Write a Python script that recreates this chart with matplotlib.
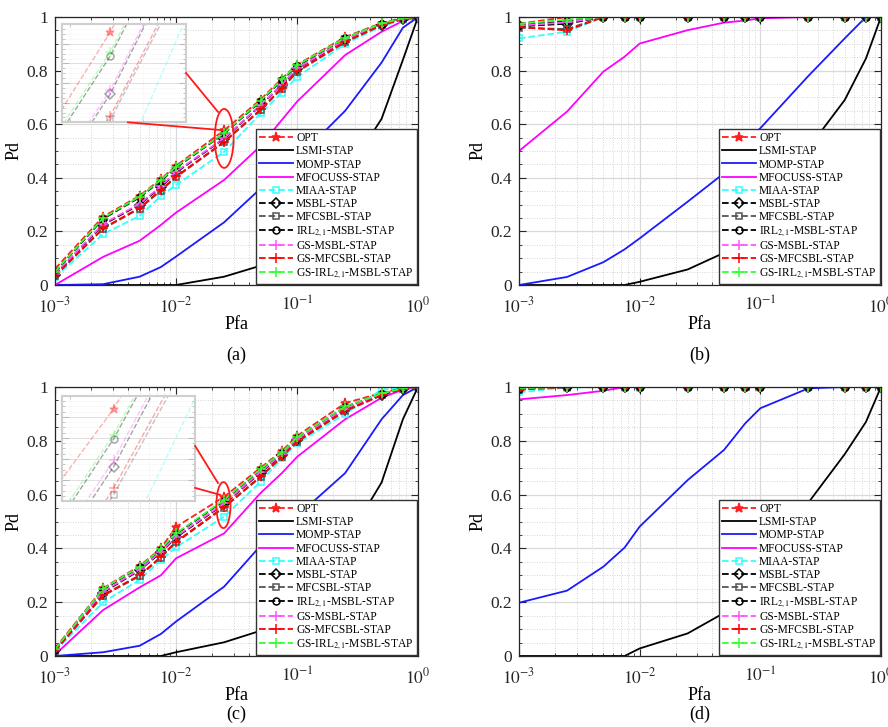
import numpy as np
import matplotlib
matplotlib.use("Agg")
import matplotlib.pyplot as plt
from matplotlib.patches import Ellipse
from matplotlib.ticker import FixedLocator, NullFormatter, LogLocator

plt.rcParams['font.family'] = ['Liberation Serif', 'DejaVu Serif']
plt.rcParams['mathtext.fontset'] = 'stix'

# ---------------- data ----------------
PFA = [1e-3, 2.5e-3, 5e-3, 7.5e-3, 1e-2, 2.5e-2, 5e-2, 7.5e-2, 0.1, 0.25, 0.5, 0.75, 1.0]

NAMES = ['OPT', 'LSMI-STAP', 'MOMP-STAP', 'MFOCUSS-STAP', 'MIAA-STAP', 'MSBL-STAP',
         'MFCSBL-STAP', r'IRL$_{2,1}$-MSBL-STAP', 'GS-MSBL-STAP', 'GS-MFCSBL-STAP',
         r'GS-IRL$_{2,1}$-MSBL-STAP']
XTICK_LABELS = [r'$10^{-3}$', r'$10^{-2}$', r'$10^{-1}$', r'$10^{0}$']
YTICK_LABELS = ['0', '0.2', '0.4', '0.6', '0.8', '1']
CAPTIONS = ['(a)', '(b)', '(c)', '(d)']

# panel (a)
OPT_A     = [0.060, 0.255, 0.333, 0.395, 0.445, 0.577, 0.692, 0.770, 0.822, 0.925, 0.978, 0.996, 1.0]
LSMI_A    = [0.0, 0.0, 0.0, 0.0, 0.0, 0.031, 0.072, 0.13, 0.19, 0.41, 0.62, 0.84, 1.0]
MOMP_A    = [0.0, 0.003, 0.031, 0.067, 0.106, 0.234, 0.36, 0.42, 0.47, 0.65, 0.83, 0.96, 1.0]
MFOCUSS_A = [0.0, 0.105, 0.165, 0.224, 0.270, 0.392, 0.519, 0.616, 0.684, 0.858, 0.945, 0.985, 1.0]
MIAA_A    = [0.028, 0.190, 0.258, 0.332, 0.373, 0.497, 0.640, 0.718, 0.775, 0.900, 0.965, 0.990, 1.0]
MSBL_A    = [0.038, 0.225, 0.300, 0.365, 0.420, 0.546, 0.670, 0.746, 0.806, 0.913, 0.972, 0.994, 1.0]
MFCSBL_A  = [0.033, 0.210, 0.285, 0.352, 0.402, 0.533, 0.652, 0.733, 0.795, 0.906, 0.969, 0.993, 1.0]
IRL_A     = [0.048, 0.247, 0.327, 0.389, 0.438, 0.565, 0.685, 0.764, 0.817, 0.920, 0.975, 0.995, 1.0]
GSMSBL_A  = [0.040, 0.228, 0.303, 0.368, 0.423, 0.548, 0.672, 0.748, 0.808, 0.915, 0.973, 0.994, 1.0]
GSMFC_A   = [0.035, 0.212, 0.288, 0.355, 0.405, 0.535, 0.655, 0.735, 0.797, 0.908, 0.970, 0.993, 1.0]
GSIRL_A   = [0.050, 0.250, 0.330, 0.392, 0.441, 0.567, 0.688, 0.767, 0.820, 0.922, 0.976, 0.995, 1.0]

# panel (b)
OPT_B     = [0.975, 1.0, 1, 1, 1, 1, 1, 1, 1, 1, 1, 1, 1]
LSMI_B    = [0.0, 0.0, 0.0, 0.0, 0.012, 0.058, 0.12, 0.2, 0.27, 0.51, 0.69, 0.845, 1.0]
MOMP_B    = [0.0, 0.03, 0.085, 0.133, 0.174, 0.311, 0.417, 0.529, 0.585, 0.78, 0.92, 1.0, 1.0]
MFOCUSS_B = [0.5, 0.647, 0.796, 0.852, 0.901, 0.951, 0.979, 0.987, 0.995, 1, 1, 1, 1]
MIAA_B    = [0.92, 0.945, 1, 1, 1, 1, 1, 1, 1, 1, 1, 1, 1]
MSBL_B    = [0.965, 0.975, 1, 1, 1, 1, 1, 1, 1, 1, 1, 1, 1]
MFCSBL_B  = [0.96, 0.955, 1, 1, 1, 1, 1, 1, 1, 1, 1, 1, 1]
IRL_B     = [0.97, 0.985, 1, 1, 1, 1, 1, 1, 1, 1, 1, 1, 1]
GSMSBL_B  = [0.968, 0.98, 1, 1, 1, 1, 1, 1, 1, 1, 1, 1, 1]
GSMFC_B   = [0.962, 0.95, 1, 1, 1, 1, 1, 1, 1, 1, 1, 1, 1]
GSIRL_B   = [0.975, 0.99, 1, 1, 1, 1, 1, 1, 1, 1, 1, 1, 1]

# panel (c)
OPT_C     = [0.028, 0.252, 0.335, 0.400, 0.480, 0.592, 0.700, 0.762, 0.818, 0.940, 0.978, 0.996, 1.0]
LSMI_C    = [0.0, 0.0, 0.0, 0.0, 0.014, 0.051, 0.094, 0.14, 0.2, 0.42, 0.645, 0.88, 1.0]
MOMP_C    = [0.0, 0.014, 0.038, 0.082, 0.128, 0.258, 0.41, 0.47, 0.52, 0.68, 0.88, 0.97, 1.0]
MFOCUSS_C = [0.005, 0.171, 0.255, 0.30, 0.363, 0.456, 0.606, 0.68, 0.74, 0.88, 0.96, 0.99, 1.0]
MIAA_C    = [0.018, 0.200, 0.283, 0.357, 0.404, 0.518, 0.648, 0.735, 0.790, 0.900, 0.990, 0.995, 1.0]
MSBL_C    = [0.021, 0.236, 0.319, 0.385, 0.441, 0.565, 0.682, 0.748, 0.804, 0.918, 0.972, 0.994, 1.0]
MFCSBL_C  = [0.019, 0.224, 0.297, 0.366, 0.422, 0.552, 0.665, 0.740, 0.796, 0.910, 0.969, 0.993, 1.0]
IRL_C     = [0.024, 0.247, 0.330, 0.395, 0.453, 0.578, 0.692, 0.755, 0.811, 0.926, 0.975, 0.995, 1.0]
GSMSBL_C  = [0.022, 0.239, 0.322, 0.388, 0.444, 0.568, 0.685, 0.750, 0.806, 0.920, 0.973, 0.994, 1.0]
GSMFC_C   = [0.020, 0.227, 0.300, 0.369, 0.425, 0.555, 0.668, 0.742, 0.798, 0.912, 0.970, 0.993, 1.0]
GSIRL_C   = [0.025, 0.250, 0.332, 0.398, 0.456, 0.580, 0.695, 0.757, 0.813, 0.928, 0.976, 0.995, 1.0]

# panel (d)
OPT_D     = [0.995, 1, 1, 1, 1, 1, 1, 1, 1, 1, 1, 1, 1]
LSMI_D    = [0.0, 0.0, 0.0, 0.0, 0.028, 0.084, 0.16, 0.25, 0.33, 0.57, 0.75, 0.87, 1.0]
MOMP_D    = [0.198, 0.243, 0.332, 0.403, 0.481, 0.654, 0.766, 0.865, 0.921, 0.995, 1, 1, 1]
MFOCUSS_D = [0.954, 0.97, 0.986, 1.0, 1, 1, 1, 1, 1, 1, 1, 1, 1]
MIAA_D    = [0.98, 0.998, 1, 1, 1, 1, 1, 1, 1, 1, 1, 1, 1]
MSBL_D    = [0.993, 1, 1, 1, 1, 1, 1, 1, 1, 1, 1, 1, 1]
MFCSBL_D  = [0.99, 1, 1, 1, 1, 1, 1, 1, 1, 1, 1, 1, 1]
IRL_D     = [0.994, 1, 1, 1, 1, 1, 1, 1, 1, 1, 1, 1, 1]
GSMSBL_D  = [0.993, 1, 1, 1, 1, 1, 1, 1, 1, 1, 1, 1, 1]
GSMFC_D   = [0.99, 1, 1, 1, 1, 1, 1, 1, 1, 1, 1, 1, 1]
GSIRL_D   = [0.995, 1, 1, 1, 1, 1, 1, 1, 1, 1, 1, 1, 1]

PANELS = [
    [OPT_A, LSMI_A, MOMP_A, MFOCUSS_A, MIAA_A, MSBL_A, MFCSBL_A, IRL_A, GSMSBL_A, GSMFC_A, GSIRL_A],
    [OPT_B, LSMI_B, MOMP_B, MFOCUSS_B, MIAA_B, MSBL_B, MFCSBL_B, IRL_B, GSMSBL_B, GSMFC_B, GSIRL_B],
    [OPT_C, LSMI_C, MOMP_C, MFOCUSS_C, MIAA_C, MSBL_C, MFCSBL_C, IRL_C, GSMSBL_C, GSMFC_C, GSIRL_C],
    [OPT_D, LSMI_D, MOMP_D, MFOCUSS_D, MIAA_D, MSBL_D, MFCSBL_D, IRL_D, GSMSBL_D, GSMFC_D, GSIRL_D],
]

# ---------------- styles ----------------
STYLES = [
    dict(color='#ff2020', ls='--', marker='*', ms=6.5, mfc='#ff2020'),
    dict(color='black', ls='-', marker=None),
    dict(color='#1a1aff', ls='-', marker=None),
    dict(color='#ff00ff', ls='-', marker=None),
    dict(color='#33ffff', ls='--', marker='s', ms=5, mfc='none'),
    dict(color='black', ls='--', marker='D', ms=5, mfc='none'),
    dict(color='#555555', ls='--', marker='s', ms=4.5, mfc='none'),
    dict(color='black', ls='--', marker='o', ms=5, mfc='none'),
    dict(color='#ff55ff', ls='--', marker='+', ms=7, mfc='none'),
    dict(color='#ff0000', ls='--', marker='+', ms=7, mfc='none'),
    dict(color='#33ff33', ls='--', marker='+', ms=7, mfc='none'),
]

W, H = 888, 727
fig = plt.figure(figsize=(W / 100, H / 100), dpi=100)

# axes boxes in pixels: left, top, right, bottom
BOXES = [(55, 17, 418, 285), (519, 17, 881, 285), (55, 387, 418, 656), (519, 387, 881, 656)]
CAP_POS = [(236, 355), (700, 355), (236, 714), (700, 714)]


def style_axes(ax, labels=True):
    ax.set_xscale('log')
    ax.set_xlim(1e-3, 1)
    ax.set_ylim(0, 1)
    ax.xaxis.set_major_locator(FixedLocator([1e-3, 1e-2, 1e-1, 1]))
    ax.xaxis.set_minor_locator(LogLocator(base=10, subs=np.arange(2, 10)))
    ax.xaxis.set_minor_formatter(NullFormatter())
    ax.yaxis.set_major_locator(FixedLocator([0, 0.2, 0.4, 0.6, 0.8, 1.0]))
    ax.yaxis.set_minor_locator(FixedLocator(np.arange(0, 1.0001, 0.05)))
    ax.grid(True, which='major', color='#d9d9d9', lw=0.9, ls='-')
    ax.grid(True, which='minor', color='#c8c8c8', lw=0.6, ls=(0, (1, 2)))
    ax.set_axisbelow(True)
    ax.tick_params(which='both', direction='in', top=True, right=True, colors='#262626')
    ax.tick_params(which='major', length=5, width=0.8, labelsize=12.5, pad=5)
    ax.tick_params(axis='x', which='major', pad=8)
    ax.tick_params(which='minor', length=2.5, width=0.6)
    for s in ax.spines.values():
        s.set_color('#262626')
        s.set_linewidth(0.9)
    if labels:
        ax.set_xticklabels(XTICK_LABELS)
        ax.set_yticklabels(YTICK_LABELS)


def draw_series(ax, data, alpha=1.0, lw=1.3):
    handles = []
    for name, ys, st in zip(NAMES, data, STYLES):
        kw = dict(color=st['color'], ls=st['ls'], lw=lw, alpha=alpha)
        if st['marker']:
            kw.update(marker=st['marker'], ms=st['ms'], mfc=st['mfc'],
                      mec=st['color'], mew=1.1)
        h, = ax.plot(PFA, ys, label=name, **kw)
        handles.append(h)
    return handles


INSETS = {0: dict(pos=(0.018, 0.607, 0.343, 0.366), ylim=(0.532, 0.581),
                  ell=(0.466, 0.547, 0.052, 0.22),
                  lines=[((0.361, 0.791), (0.449, 0.646)), ((0.201, 0.607), (0.459, 0.578))]),
          2: dict(pos=(0.018, 0.576, 0.368, 0.391), ylim=(0.549, 0.598),
                  ell=(0.464, 0.561, 0.039, 0.171),
                  lines=[((0.386, 0.781), (0.449, 0.643)), ((0.386, 0.625), (0.455, 0.599))])}

for i, (box, data) in enumerate(zip(BOXES, PANELS)):
    l, t, r, b = box
    ax = fig.add_axes([l / W, 1 - b / H, (r - l) / W, (b - t) / H])
    style_axes(ax)
    draw_series(ax, data)
    ax.set_xlabel('Pfa', fontsize=13, labelpad=0)
    ax.set_ylabel('Pd', fontsize=13, labelpad=3)
    leg = ax.legend(loc='lower right', fontsize=8.3, handlelength=2.9, handletextpad=0.3,
                    labelspacing=0.1, borderpad=0.25, borderaxespad=0.12, frameon=True,
                    fancybox=False, edgecolor='#333333', framealpha=1)
    leg.get_frame().set_linewidth(1.0)
    leg.set_zorder(5)
    cx, cy = CAP_POS[i]
    fig.text(cx / W, 1 - cy / H, CAPTIONS[i], ha='center', va='center', fontsize=13)

    if i in INSETS:
        ins = INSETS[i]
        iax = ax.inset_axes(list(ins['pos']))
        style_axes(iax, labels=False)
        iax.set_xticklabels([])
        iax.set_yticklabels([])
        iax.set_xlim(0.025 * 10 ** (-0.117), 0.025 * 10 ** 0.183)
        iax.set_ylim(*ins['ylim'])
        iax.yaxis.set_major_locator(FixedLocator(np.linspace(ins['ylim'][0], ins['ylim'][1], 6)))
        iax.yaxis.set_minor_locator(FixedLocator(np.linspace(ins['ylim'][0], ins['ylim'][1], 21)))
        iax.grid(True, which='minor', color='#e6e6e6', lw=0.5, ls=(0, (1, 2)))
        iax.grid(True, which='major', color='#e0e0e0', lw=0.7)
        iax.tick_params(which='both', colors='#bbbbbb')
        for s in iax.spines.values():
            s.set_color('#cfcfcf')
            s.set_linewidth(1.5)
        draw_series(iax, data, alpha=0.35, lw=1.0)
        ex, ey, ew, eh = ins['ell']
        ax.add_patch(Ellipse((ex, ey), ew, eh, transform=ax.transAxes, fill=False,
                             edgecolor='#ff1a1a', lw=1.3, zorder=6))
        for (p0, p1) in ins['lines']:
            ax.plot([p0[0], p1[0]], [p0[1], p1[1]], color='#ff1a1a', lw=1.3,
                    transform=ax.transAxes, zorder=6)

fig.savefig('out.png', dpi=100)
